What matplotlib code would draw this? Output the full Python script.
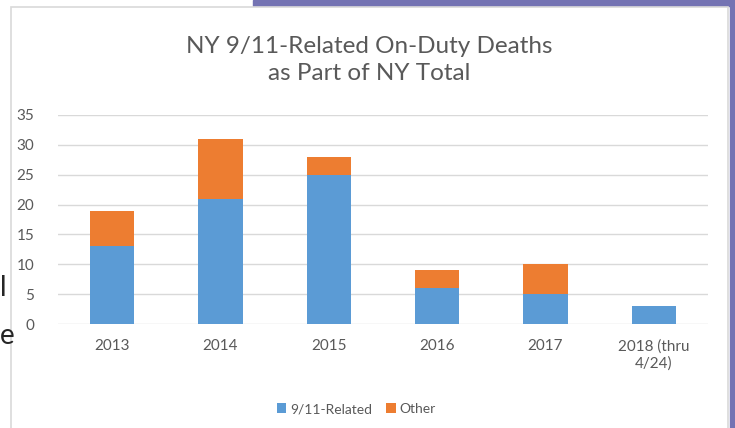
import matplotlib.pyplot as plt
from matplotlib.patches import Rectangle

years = ['2013', '2014', '2015', '2016', '2017', '2018 (thru\n4/24)']
related = [13, 21, 25, 6, 5, 3]
other = [6, 10, 3, 3, 5, 0]

blue = '#5B9BD5'
orange = '#ED7D31'
gray_txt = '#595959'

plt.rcParams['font.family'] = ['Lato', 'DejaVu Sans']

W, H = 735, 428
fig = plt.figure(figsize=(W / 100, H / 100), dpi=100)

def fx(px):
    return px / W

def fy(py):
    return 1 - py / H

#slide background bits
fig.patches.append(Rectangle((fx(253), fy(6)), fx(735 - 253), 6 / H, transform=fig.transFigure,
                             color='#7473B3', zorder=0))
fig.patches.append(Rectangle((fx(730), 0), fx(5), 1, transform=fig.transFigure,
                             color='#7473B3', zorder=0))
fig.patches.append(Rectangle((fx(11), -0.01), fx(728 - 11), fy(7) + 0.01, transform=fig.transFigure,
                             facecolor='white', edgecolor='#D9D9D9', lw=1.2, zorder=0))
fig.text(fx(0.5), fy(288), 'l', fontsize=20, ha='left', va='center', color='#262626')
fig.text(fx(0), fy(336), 'e', fontsize=20, ha='left', va='center', color='#262626')

ax = fig.add_axes([fx(58), fy(324), fx(708 - 58), (324 - 115) / H])
ax.set_zorder(3)
x = range(len(years))
ax.bar(x, related, width=0.41, color=blue, zorder=2, label='9/11-Related')
ax.bar(x, other, width=0.41, bottom=related, color=orange, zorder=2, label='Other')

ax.set_ylim(0, 35)
ax.set_xlim(-0.5, len(years) - 0.5)
ax.set_yticks(range(0, 36, 5))
ax.set_xticks(list(x))
ax.set_xticklabels(years)
ax.grid(axis='y', color='#D9D9D9', lw=1, zorder=0)
for s in ax.spines.values():
    s.set_visible(False)
ax.tick_params(length=0, labelsize=11, labelcolor=gray_txt)
ax.tick_params(axis='x', pad=11)
ax.tick_params(axis='y', pad=17)
ax.set_facecolor('none')

fig.text(fx(369), fy(60), 'NY 9/11-Related On-Duty Deaths\nas Part of NY Total', fontsize=17.5,
         ha='center', va='center', color=gray_txt, linespacing=1.3, zorder=4)

leg = fig.legend(loc='center', bbox_to_anchor=(fx(356), fy(409)), ncol=2, frameon=False,
                 fontsize=10, labelcolor=gray_txt, handlelength=0.7, handleheight=0.7,
                 handletextpad=0.25, columnspacing=1.0)
leg.set_zorder(4)

fig.savefig('out.png', dpi=100)
